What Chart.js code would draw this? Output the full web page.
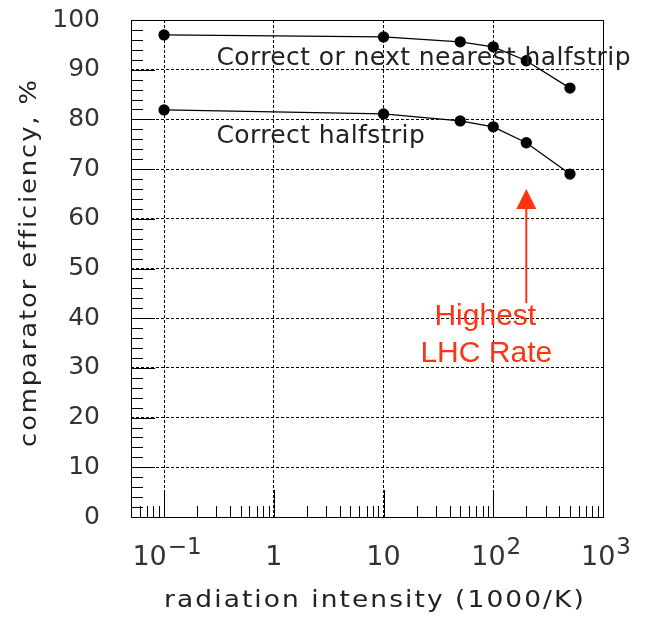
<!DOCTYPE html>
<html>
<head>
<meta charset="utf-8">
<script src="https://cdn.jsdelivr.net/npm/chart.js@4.4.1/dist/chart.umd.min.js"></script>
<style>
  body { margin: 0; background: #fff; }
  #effChart { display: block; }
</style>
</head>
<body>
<canvas id="effChart" width="647" height="619"></canvas>
<script>
// radiation intensity (1000/K) for each measurement
const intensity = [0.1, 10, 50, 100, 200, 500];
// comparator efficiency, %
const nextNearest = [97.0, 96.6, 95.6, 94.6, 91.8, 86.3];
const correctOnly = [81.9, 81.1, 79.7, 78.5, 75.3, 69.0];

// decade ticks on the x axis: base and exponent
const xTickValues = [0.1, 1, 10, 100, 1000];
const xTickLabels = [["10", "\u22121"], ["1", ""], ["10", ""], ["10", "2"], ["10", "3"]];

// arrow marking the LHC rate
const lhcRate = 200;
const arrowFrom = 43;
const arrowTo = 66;

const textColor = "#333";
const red = "#ff3311";

function toPoints(xs, ys)
{
	return xs.map((x, i) => ({x: x, y: ys[i]}));
}

// wide title text: stretched a little and spaced out
function wideText(ctx, text, x, y, angle, stretch, spacing)
{
	ctx.save();
	ctx.translate(x, y);
	ctx.rotate(angle);
	ctx.scale(stretch, 1);
	ctx.letterSpacing = spacing;
	ctx.fillText(text, 0, 0);
	ctx.restore();
}

//frame, inner ticks, x labels, titles and the text notes
const decorations = {
	id: "decorations",
	afterDraw(chart)
	{
		const ctx = chart.ctx;
		const a = chart.chartArea;
		const xs = chart.scales.x;
		const ys = chart.scales.y;
		ctx.save();

		ctx.strokeStyle = "#000";
		ctx.lineWidth = 1;
		ctx.setLineDash([]);
		ctx.beginPath();
		// y axis ticks every 2 %, longer every 10 %
		for (let v = 0; v <= 100; v += 2)
		{
			const py = Math.round(ys.getPixelForValue(v)) + 0.5;
			const len = (v % 10 === 0) ? 24 : 12;
			ctx.moveTo(a.left, py);
			ctx.lineTo(a.left + len, py);
		}
		// x axis ticks, 2..9 inside each decade
		for (let d = -2; d <= 2; d++)
		{
			for (let m = 1; m <= 9; m++)
			{
				const v = m * Math.pow(10, d);
				if (v < xs.min || v > xs.max) continue;
				const px = Math.round(xs.getPixelForValue(v)) + 0.5;
				const len = (m === 1) ? 27 : 11;
				ctx.moveTo(px, a.bottom);
				ctx.lineTo(px, a.bottom - len);
			}
		}
		ctx.stroke();
		ctx.strokeRect(Math.round(a.left) + 0.5, Math.round(a.top) + 0.5,
			Math.round(a.right - a.left), Math.round(a.bottom - a.top));

		// x labels with raised exponents
		ctx.fillStyle = textColor;
		ctx.textBaseline = "alphabetic";
		ctx.textAlign = "left";
		xTickValues.forEach((v, i) =>
		{
			const base = xTickLabels[i][0];
			const exp = xTickLabels[i][1];
			ctx.font = "27px 'DejaVu Sans'";
			const bw = ctx.measureText(base).width;
			ctx.font = "23px 'DejaVu Sans'";
			const ew = exp ? ctx.measureText(exp).width + 1 : 0;
			const left = xs.getPixelForValue(v) - (bw + ew) / 2 + (exp ? 3 : 0);
			ctx.font = "27px 'DejaVu Sans'";
			ctx.fillText(base, left, a.bottom + 48);
			if (exp)
			{
				ctx.font = "23px 'DejaVu Sans'";
				ctx.fillText(exp, left + bw + 1, a.bottom + 37);
			}
		});

		// axis titles
		ctx.fillStyle = "#222";
		ctx.font = "23px 'DejaVu Sans'";
		ctx.textAlign = "center";
		wideText(ctx, "radiation intensity (1000/K)", (a.left + a.right) / 2 + 8, a.bottom + 90, 0, 1.15, "1.8px");
		wideText(ctx, "comparator efficiency, %", 36, (a.top + a.bottom) / 2 - 6, -Math.PI / 2, 1.12, "1.7px");

		// curve names
		ctx.font = "25px 'DejaVu Sans'";
		ctx.letterSpacing = "0.4px";
		ctx.textAlign = "left";
		ctx.fillText("Correct or next nearest halfstrip", xs.getPixelForValue(0.3), ys.getPixelForValue(90.9));
		ctx.fillText("Correct halfstrip", xs.getPixelForValue(0.3), ys.getPixelForValue(75.3));
		ctx.letterSpacing = "0px";

		// LHC rate arrow
		const ax = xs.getPixelForValue(lhcRate);
		const yBot = ys.getPixelForValue(arrowFrom);
		const yTip = ys.getPixelForValue(arrowTo);
		ctx.strokeStyle = red;
		ctx.fillStyle = red;
		ctx.lineWidth = 2;
		ctx.beginPath();
		ctx.moveTo(ax, yBot);
		ctx.lineTo(ax, yTip + 18);
		ctx.stroke();
		ctx.beginPath();
		ctx.moveTo(ax, yTip);
		ctx.lineTo(ax - 10, yTip + 20);
		ctx.lineTo(ax + 10, yTip + 20);
		ctx.closePath();
		ctx.fill();

		ctx.font = "30px 'Liberation Sans'";
		ctx.textAlign = "center";
		ctx.fillText("Highest", ax - 41, yBot + 22);
		ctx.fillText("LHC Rate", ax - 40, yBot + 59);

		ctx.restore();
	}
};

new Chart("effChart",
{
	type: "line",
	data:
	{
		datasets: [
			{label: "Correct or next nearest halfstrip", data: toPoints(intensity, nextNearest)},
			{label: "Correct halfstrip", data: toPoints(intensity, correctOnly)}
		].map(d => Object.assign(d, {
			borderColor: "#000", borderWidth: 1.3, fill: false, tension: 0,
			pointRadius: 5, pointBackgroundColor: "#000", pointBorderColor: "#000", pointHoverRadius: 5
		}))
	},
	options:
	{
		responsive: false,
		animation: false,
		layout: {padding: {left: 0, top: 20, right: 44, bottom: 0}},
		plugins: {legend: {display: false}, tooltip: {enabled: false}},
		scales:
		{
			x:
			{
				type: "logarithmic",
				min: 0.05,
				max: 1000,
				afterBuildTicks: s => { s.ticks = xTickValues.map(v => ({value: v})); },
				afterFit: s => { s.height = 102; s.paddingLeft = 0; s.paddingRight = 0; },
				ticks: {display: false},
				grid: {color: "#000", lineWidth: 1, drawTicks: false, tickLength: 0},
				border: {display: false, dash: [3, 2]}
			},
			y:
			{
				min: 0,
				max: 100,
				afterFit: s => { s.width = 131; s.paddingTop = 0; s.paddingBottom = 0; },
				ticks: {stepSize: 10, padding: 31, color: textColor, font: {family: "'DejaVu Sans'", size: 25}},
				grid: {color: "#000", lineWidth: 1, drawTicks: false, tickLength: 0},
				border: {display: false, dash: [3, 2]}
			}
		}
	},
	plugins: [decorations]
});
</script>
</body>
</html>
